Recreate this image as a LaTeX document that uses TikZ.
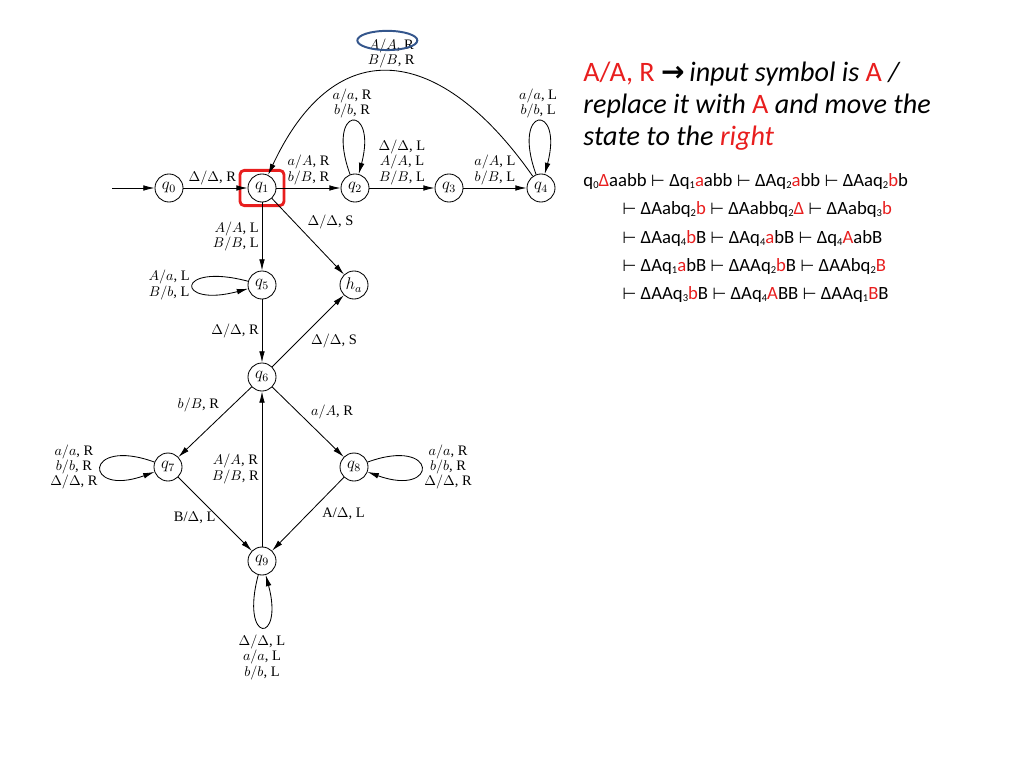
\documentclass[tikz,border=0pt]{standalone}
\usepackage{fontspec}
\setmainfont{Liberation Serif}
\newfontfamily\slidefont{Carlito}
\newfontfamily\symfont{DejaVu Sans}
\usetikzlibrary{arrows.meta,shapes.geometric}

\definecolor{hl}{RGB}{232,30,30}
\definecolor{ringblue}{RGB}{52,86,140}
\newcommand\qs[1]{\raisebox{-0.3ex}{\fontsize{7.5}{7.5}\selectfont #1}}
\newcommand\yields{{\symfont\fontsize{11.5}{11.5}\selectfont ⊢}}

\begin{document}
\begin{tikzpicture}[x=0.025cm, y=-0.025cm, >={Latex[length=8pt,width=4pt]}, line width=0.6pt,
                    main node/.style={circle,draw,minimum size=0.7cm,inner sep=0pt,font=\fontsize{11.5}{12}\selectfont},
                    lab/.style={font=\fontsize{10.3}{11}\selectfont,align=center,inner sep=2pt},
                    note/.style={font=\slidefont\fontsize{20}{24}\selectfont,anchor=base west,inner sep=0pt},
                    trace/.style={font=\slidefont\fontsize{13.3}{15}\selectfont,anchor=base west,inner sep=0pt}]

  \useasboundingbox (0,0) rectangle (1024,768);

  \node[main node] (q0) at (169, 188) {$q_0$};
  \node[main node] (q1) at (262, 188) {$q_1$};
  \node[main node] (q2) at (355, 188) {$q_2$};
  \node[main node] (q3) at (449, 188) {$q_3$};
  \node[main node] (q4) at (541, 188) {$q_4$};
  \node[main node] (q5) at (262, 285) {$q_5$};
  \node[main node] (ha) at (354, 285) {$h_a$};
  \node[main node] (q6) at (262, 377) {$q_6$};
  \node[main node] (q7) at (168, 467) {$q_7$};
  \node[main node] (q8) at (354, 467) {$q_8$};
  \node[main node] (q9) at (262, 561) {$q_9$};
  \coordinate (start) at (112, 188);

  % highlights
  \node[draw=hl, line width=2pt, rounded corners=3pt, minimum width=1.1cm, minimum height=0.88cm] (pick) at (q1) {};

  \draw[->] (start) -- (q0);

  \path[->, every node/.style={lab}]
  (q0) edge node [above, pos=0.45] {$\Delta/\Delta$, R} (q1)
  (q1) edge node [above] {$a/A$, R\\$b/B$, R} (q2)
  (q2) edge [out=110, in=75, min distance=1.85cm] node [above] {$a/a$, R\\$b/b$, R} (q2)
  (q2) edge node [above] {$\Delta/\Delta$, L\\$A/A$, L\\$B/B$, L} (q3)
  (q3) edge node [above] {$a/A$, L\\$b/B$, L} (q4)
  (q4) edge [out=110, in=75, min distance=1.85cm] node [above] {$a/a$, L\\$b/b$, L} (q4)
  (q4) edge [out=125, in=65, looseness=1.55] node [above] (back) {$A/A$, R\\$B/B$, R} (q1)
  (q1) edge node [left, align=right] {$A/A$, L\\$B/B$, L} (q5)
  (q1) edge node [above right, pos=0.45] {$\Delta/\Delta$, S} (ha)
  (q5) edge [out=165, in=195, min distance=1.9cm] node [left] {$A/a$, L\\$B/b$, L} (q5)
  (q5) edge node [left] {$\Delta/\Delta$, R} (q6)
  (q6) edge node [below right] {$\Delta/\Delta$, S} (ha)
  (q6) edge node [above left, pos=0.4] {$b/B$, R} (q7)
  (q6) edge node [above right, pos=0.5] {$a/A$, R} (q8)
  (q7) edge [out=160, in=200, min distance=1.9cm] node [left] {$a/a$, R\\$b/b$, R\\$\Delta/\Delta$, R} (q7)
  (q8) edge [out=20, in=-20, min distance=1.9cm] node [right] {$a/a$, R\\$b/b$, R\\$\Delta/\Delta$, R} (q8)
  (q9) edge node [left] {$A/A$, R\\$B/B$, R} (q6)
  (q7) edge node [left, pos=0.55] {B/$\Delta$, L} (q9)
  (q8) edge node [right, xshift=8pt] {A/$\Delta$, L} (q9)
  (q9) edge [out=255, in=285, min distance=1.8cm] node [below, yshift=-3pt] {$\Delta/\Delta$, L\\$a/a$, L\\$b/b$, L} (q9);

  \node[ellipse, draw=ringblue, line width=1.4pt, minimum width=1.5cm, minimum height=0.48cm, inner sep=0pt] (ring) at ([xshift=-0.1cm, yshift=-0.12cm]back.north) {};

  % explanation
  \node[note] (rule1) at (583, 82) {\textcolor{hl}{A/A, R} {\symfont\bfseries →}\,\textit{input symbol is} \textcolor{hl}{A} \textit{/}};
  \node[note] (rule2) at (583, 114) {\textit{replace it with} \textcolor{hl}{A} \textit{and move the}};
  \node[note] (rule3) at (583, 146) {\textit{state to the} \textcolor{hl}{\textit{right}}};

  \node[trace] (run1) at (583, 186) {q\qs0\textcolor{hl}{Δ}aabb \yields{} Δq\qs1\textcolor{hl}{a}abb \yields{} ΔAq\qs2\textcolor{hl}{a}bb \yields{} ΔAaq\qs2\textcolor{hl}{b}b};
  \node[trace] (run2) at (622, 214) {\yields{} ΔAabq\qs2\textcolor{hl}{b} \yields{} ΔAabbq\qs2\textcolor{hl}{Δ} \yields{} ΔAabq\qs3\textcolor{hl}{b}};
  \node[trace] (run3) at (622, 243) {\yields{} ΔAaq\qs4\textcolor{hl}{b}B \yields{} ΔAq\qs4\textcolor{hl}{a}bB \yields{} Δq\qs4\textcolor{hl}{A}abB};
  \node[trace] (run4) at (622, 271) {\yields{} ΔAq\qs1\textcolor{hl}{a}bB \yields{} ΔAAq\qs2\textcolor{hl}{b}B \yields{} ΔAAbq\qs2\textcolor{hl}{B}};
  \node[trace] (run5) at (622, 299) {\yields{} ΔAAq\qs3\textcolor{hl}{b}B \yields{} ΔAq\qs4\textcolor{hl}{A}BB \yields{} ΔAAq\qs1\textcolor{hl}{B}B};

\end{tikzpicture}
\end{document}
